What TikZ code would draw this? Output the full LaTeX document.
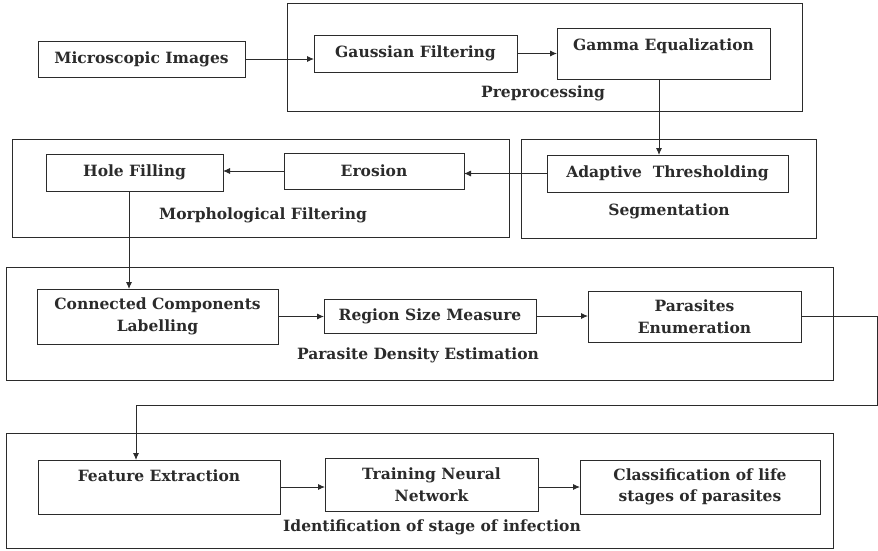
\documentclass[tikz,border=0pt]{standalone}
\usepackage{fontspec}
\setmainfont{DejaVu Serif}
\usetikzlibrary{arrows.meta}
\definecolor{ink}{HTML}{2B2B2B}
\begin{document}
\begin{tikzpicture}[x=1pt,y=-1pt,
  stepbox/.style={draw=ink, line width=0.9pt, inner sep=0pt, outer sep=0pt,
    align=center, text=ink, font=\bfseries\fontsize{15.5}{21.5}\selectfont},
  groupbox/.style={draw=ink, line width=0.9pt, inner sep=0pt, outer sep=0pt},
  grouplabel/.style={text=ink, font=\bfseries\fontsize{15.5}{18}\selectfont},
  toplabel/.style={text=ink, font=\bfseries\fontsize{15.5}{18}\selectfont, anchor=center},
  flow/.style={draw=ink, line width=0.9pt, -{Latex[length=7pt,width=6pt]}}]
\useasboundingbox (0,0) rectangle (878,550);

% group frames
\node[groupbox, minimum width=515pt, minimum height=108pt] (prep)  at (544.5,57) {};
\node[groupbox, minimum width=295pt, minimum height=99pt]  (seg)   at (668.5,188.5) {};
\node[groupbox, minimum width=497pt, minimum height=98pt]  (morph) at (260.5,188) {};
\node[groupbox, minimum width=827pt, minimum height=113pt] (pde)   at (419.5,323.5) {};
\node[groupbox, minimum width=827pt, minimum height=115pt] (ident) at (419.5,490.5) {};

% group titles
\node[grouplabel] (prepl)  at (543,93)  {Preprocessing};
\node[grouplabel] (segl)   at (669,211) {Segmentation};
\node[grouplabel] (morphl) at (263,215) {Morphological Filtering};
\node[grouplabel] (pdel)   at (418,355) {Parasite Density Estimation};
\node[grouplabel] (identl) at (432,527) {Identification of stage of infection};

% processing steps
\node[stepbox, minimum width=207pt, minimum height=36pt] (micro) at (141.5,59) {Microscopic Images};
\node[stepbox, minimum width=203pt, minimum height=37pt] (gauss) at (415.5,53.5) {Gaussian Filtering};
\node[stepbox, minimum width=213pt, minimum height=51pt,
      label={[toplabel, yshift=-18pt]north:Gamma Equalization}] (gamma) at (663.5,53.5) {};
\node[stepbox, minimum width=241pt, minimum height=37pt] (adapt) at (667.5,173.5) {Adaptive\ \ Thresholding};
\node[stepbox, minimum width=180pt, minimum height=36pt] (eros)  at (374,171) {Erosion};
\node[stepbox, minimum width=177pt, minimum height=37pt] (hole)  at (134.5,172.5) {Hole Filling};
\node[stepbox, minimum width=241pt, minimum height=55pt] (cc)    at (157.5,316.5) {Connected Components\\Labelling};
\node[stepbox, minimum width=212pt, minimum height=34pt] (region) at (430,316) {Region Size Measure};
\node[stepbox, minimum width=213pt, minimum height=51pt] (paras) at (694.5,316.5) {Parasites\\Enumeration};
\node[stepbox, minimum width=242pt, minimum height=54pt,
      label={[toplabel, yshift=-16pt]north:Feature Extraction}] (feat) at (159,487) {};
\node[stepbox, minimum width=213pt, minimum height=53pt] (train) at (431.5,484.5) {Training Neural\\Network};
\node[stepbox, minimum width=240pt, minimum height=54pt] (class) at (700,487) {Classification of life\\stages of parasites};

% connectors
\coordinate (wrap) at (877,405);
\draw[flow] (micro.east) -- (micro.east -| gauss.west);
\draw[flow] (gauss.east) -- (gauss.east -| gamma.west);
\draw[flow] ([xshift=-4.5pt]gamma.south) -- ([xshift=-4.5pt]gamma.south |- adapt.north);
\draw[flow] (adapt.west) -- (adapt.west -| eros.east);
\draw[flow] (eros.west) -- (eros.west -| hole.east);
\draw[flow] ([xshift=-5.5pt]hole.south) -- ([xshift=-5.5pt]hole.south |- cc.north);
\draw[flow] (cc.east) -- (cc.east -| region.west);
\draw[flow] (region.east) -- (region.east -| paras.west);
\draw[flow] (paras.east) -| (wrap) -| ([xshift=-23pt]feat.north);
\draw[flow] (feat.east) -- (feat.east -| train.west);
\draw[flow] (train.east |- class.west) -- (class.west);
\end{tikzpicture}
\end{document}
